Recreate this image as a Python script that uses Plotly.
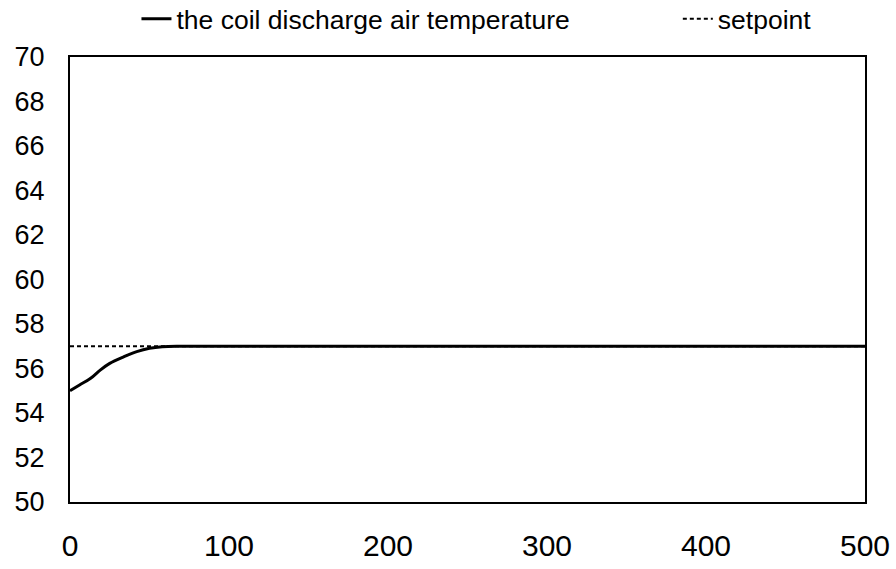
import plotly.graph_objects as go

# data
time_s = [0, 6, 13, 19, 25, 34, 42, 50, 58, 70, 100, 200, 300, 400, 500]
discharge_temp = [55.0, 55.26, 55.56, 55.93, 56.23, 56.53, 56.76, 56.91, 56.98, 57.0, 57.0, 57.0, 57.0, 57.0, 57.0]
setpoint_time = [0, 500]
setpoint_temp = [57, 57]
x_ticks = [0, 100, 200, 300, 400, 500]
y_ticks = [50, 52, 54, 56, 58, 60, 62, 64, 66, 68, 70]

FONT = "Liberation Sans, Arial, sans-serif"
PAD = "\u00a0" * 14

fig = go.Figure()
fig.add_trace(go.Scatter(
    x=setpoint_time, y=setpoint_temp, mode="lines", name="setpoint",
    line=dict(color="black", width=2, dash="4px,3px"),
))
fig.add_trace(go.Scatter(
    x=time_s, y=discharge_temp, mode="lines",
    name="the coil discharge air temperature" + PAD,
    line=dict(color="black", width=3, shape="spline"),
))

fig.update_layout(
    width=896, height=569,
    margin=dict(l=70, r=31, t=57, b=67, autoexpand=False),
    paper_bgcolor="white", plot_bgcolor="white",
    font=dict(family=FONT, color="black"),
    showlegend=True,
    legend=dict(
        orientation="h", x=0.0836, xanchor="left",
        yref="container", y=1 - 19 / 569, yanchor="middle",
        font=dict(size=26.5, family=FONT, color="black"),
        traceorder="reversed",
        bgcolor="rgba(0,0,0,0)",
    ),
)
fig.update_xaxes(
    range=[0, 500], tickvals=x_ticks, showgrid=False, zeroline=False,
    showline=True, linecolor="black", linewidth=2, mirror=True,
    ticks="", tickfont=dict(size=30, family=FONT, color="black"),
    ticklabelstandoff=16,
)
fig.update_yaxes(
    range=[50, 70], tickvals=y_ticks, showgrid=False, zeroline=False,
    showline=True, linecolor="black", linewidth=2, mirror=True,
    ticks="", tickfont=dict(size=27, family=FONT, color="black"),
    ticklabelstandoff=18,
)

fig.write_html("out.html")
